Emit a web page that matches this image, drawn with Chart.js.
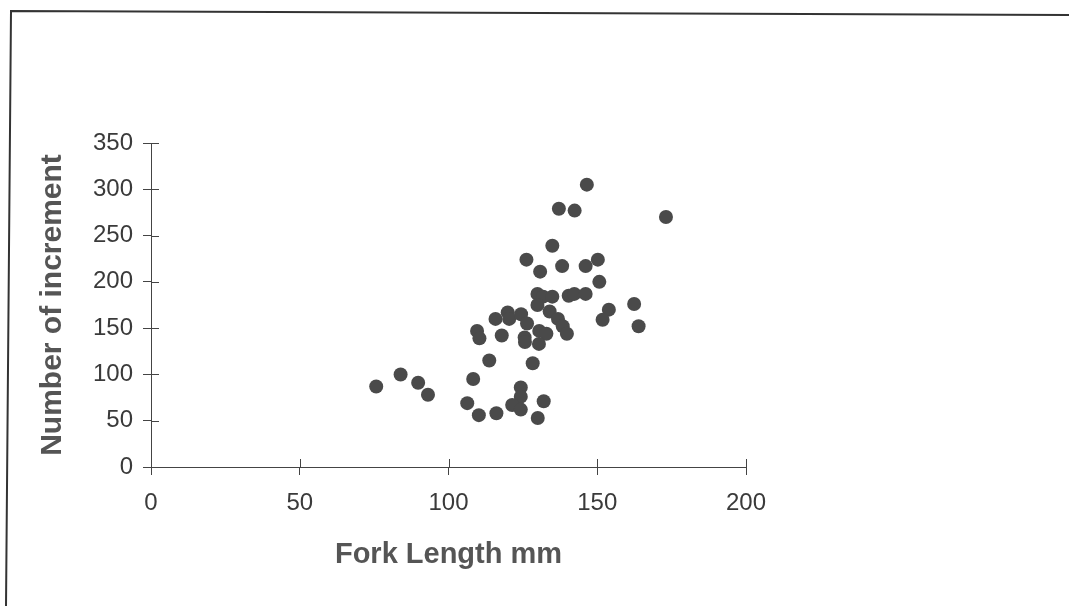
<!DOCTYPE html>
<html>
<head>
<meta charset="utf-8">
<script src="https://cdn.jsdelivr.net/npm/chart.js@4/dist/chart.umd.min.js"></script>
<style>
  html, body { margin: 0; padding: 0; background: #fff; }
  #wrap { position: relative; width: 1069px; height: 608px; }
</style>
</head>
<body>
<div id="wrap"><canvas id="scatterChart" width="1069" height="608"></canvas></div>
<script>
// Dados
const forkLength = [146.5, 137.1, 142.4, 173.1, 134.9, 126.2, 130.8, 138.2, 146.1, 150.2,
  150.7, 129.9, 131.8, 134.9, 140.4, 142.3, 146.1, 129.9, 162.4, 153.9,
  151.8, 163.9, 134.0, 119.9, 120.4, 115.8, 124.4, 126.4, 136.8, 138.4,
  139.8, 109.6, 110.4, 117.9, 125.6, 125.7, 130.5, 132.9, 130.4, 113.7,
  128.3, 75.7, 83.9, 89.8, 93.1, 108.3, 106.3, 124.3, 124.3, 121.4,
  124.3, 132.0, 110.2, 116.1, 130.0];
const increments = [305, 279, 277, 270, 239, 224, 211, 217, 217, 224,
  200, 187, 184, 184, 185, 187, 187, 175, 176, 170,
  159, 152, 168, 167, 160, 160, 165, 155, 160, 152,
  144, 147, 139, 142, 140, 135, 147, 144, 133, 115,
  112, 87, 100, 91, 78, 95, 69, 86, 76, 67,
  62, 71, 56, 58, 53];
const xTicks = [0, 50, 100, 150, 200];
const yTicks = [0, 50, 100, 150, 200, 250, 300, 350];

const points = forkLength.map((x, i) => ({ x: x, y: increments[i] }));
const FONT = "'Liberation Sans', Arial, sans-serif";
const AXIS_COLOR = '#444';

// moldura e marcas de escala cruzando o eixo (estilo Excel)
const framePlugin = {
  id: 'frame',
  beforeDraw(chart) {
    const ctx = chart.ctx;
    ctx.save();
    ctx.fillStyle = '#fff';
    ctx.fillRect(0, 0, chart.width, chart.height);
    ctx.strokeStyle = '#333';
    ctx.lineWidth = 2;
    ctx.beginPath();
    ctx.moveTo(1069, 15);
    ctx.lineTo(11, 11);
    ctx.lineTo(6, 606);
    ctx.stroke();
    ctx.restore();
  },
  afterDraw(chart) {
    const ctx = chart.ctx;
    const xs = chart.scales.x;
    const ys = chart.scales.y;
    const area = chart.chartArea;
    ctx.save();
    ctx.strokeStyle = AXIS_COLOR;
    ctx.lineWidth = 1;
    ctx.beginPath();
    xTicks.forEach(v => {
      const px = Math.round(xs.getPixelForValue(v)) + 0.5;
      ctx.moveTo(px, area.bottom);
      ctx.lineTo(px, area.bottom - 8);
    });
    yTicks.forEach(v => {
      const py = Math.round(ys.getPixelForValue(v)) + 0.5;
      ctx.moveTo(area.left, py);
      ctx.lineTo(area.left + 8, py);
    });
    ctx.stroke();
    ctx.restore();
  }
};

const ctx = document.getElementById('scatterChart');
new Chart(ctx, {
  type: 'scatter',
  data: {
    datasets: [{
      label: 'Number of increment',
      data: points,
      backgroundColor: '#4a4a4a',
      borderColor: '#4a4a4a',
      borderWidth: 0,
      pointRadius: 7,
      pointHoverRadius: 7
    }]
  },
  options: {
    responsive: false,
    animation: false,
    events: [],
    layout: {
      padding: { top: 143, right: 323, left: 0, bottom: 0 }
    },
    plugins: {
      legend: { display: false },
      tooltip: { enabled: false }
    },
    scales: {
      x: {
        type: 'linear',
        min: 0,
        max: 200,
        afterFit(scale) { scale.height = 141; },
        afterBuildTicks(scale) { scale.ticks = xTicks.map(v => ({ value: v })); },
        border: { color: AXIS_COLOR, width: 1 },
        grid: { drawOnChartArea: false, tickLength: 8, color: AXIS_COLOR },
        ticks: {
          padding: 14,
          color: '#3a3a3a',
          font: { family: FONT, size: 24 }
        },
        title: {
          display: true,
          text: 'Fork Length mm',
          color: '#555',
          padding: { top: 36, bottom: 36 },
          font: { family: FONT, size: 29, weight: 'bold' }
        }
      },
      y: {
        type: 'linear',
        min: 0,
        max: 350,
        afterFit(scale) { scale.width = 151; },
        afterBuildTicks(scale) { scale.ticks = yTicks.map(v => ({ value: v })); },
        border: { color: AXIS_COLOR, width: 1 },
        grid: { drawOnChartArea: false, tickLength: 8, color: AXIS_COLOR },
        ticks: {
          padding: 10,
          color: '#3a3a3a',
          font: { family: FONT, size: 24 }
        },
        title: {
          display: true,
          text: 'Number of increment',
          color: '#555',
          padding: { top: 35, bottom: 35 },
          font: { family: FONT, size: 30, weight: 'bold' }
        }
      }
    }
  },
  plugins: [framePlugin]
});
</script>
</body>
</html>
